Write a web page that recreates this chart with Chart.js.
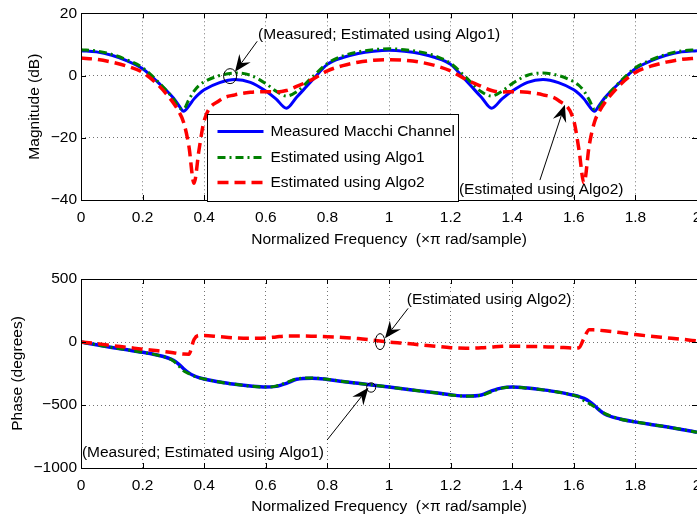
<!DOCTYPE html>
<html>
<head>
<meta charset="utf-8">
<script src="https://cdn.jsdelivr.net/npm/chart.js@4"></script>
<style>
html, body { margin: 0; padding: 0; overflow: hidden; background: #fff; }
#wrap { position: relative; width: 697px; height: 523px; overflow: hidden; }
canvas { position: absolute; left: 0; }
#mag { top: 0; }
#phase { top: 260px; }
</style>
</head>
<body>
<div id="wrap">
  <canvas id="mag" width="717" height="260"></canvas>
  <canvas id="phase" width="717" height="263"></canvas>
</div>
<script>
// normalized frequency (x pi rad/sample)
const freq = [
  0, 0.05, 0.1, 0.15, 0.2, 0.25, 0.3, 0.317, 0.333, 0.35, 0.367, 0.383, 0.4,
  0.45, 0.5, 0.55, 0.6, 0.633, 0.667, 0.7, 0.75, 0.8, 0.85, 0.9, 0.95, 1.0,
  1.05, 1.1, 1.15, 1.2, 1.25, 1.3, 1.333, 1.367, 1.4, 1.45, 1.5, 1.55, 1.6,
  1.617, 1.633, 1.65, 1.667, 1.683, 1.7, 1.75, 1.8, 1.85, 1.9, 1.95, 2.0
];

// magnitude, dB
const magMeasured = [
  8.0, 7.6, 6.5, 4.7, 2.2, -2.2, -7.2, -9.5, -11.5, -9.8, -7.5, -5.9, -4.6,
  -2.3, -1.3, -2.2, -5.0, -7.5, -10.5, -7.0, -1.6, 3.6, 5.8, 7.1, 7.8, 8.1,
  7.8, 7.1, 5.8, 3.6, -1.6, -7.0, -10.5, -7.5, -5.0, -2.2, -1.3, -2.3, -4.6,
  -5.9, -7.5, -9.8, -11.5, -9.5, -7.2, -2.2, 2.2, 4.7, 6.5, 7.6, 8.0
];
const magAlgo1 = [
  8.3, 7.9, 6.8, 5.0, 2.5, -2.0, -7.5, -10.2, -10.8, -7.8, -5.0, -3.2, -2.0,
  0.0, 0.8, 0.1, -2.6, -5.0, -6.6, -5.2, -0.6, 3.9, 6.3, 7.6, 8.3, 8.6,
  8.3, 7.6, 6.3, 3.9, -0.6, -5.2, -6.6, -5.0, -2.6, 0.1, 0.8, 0.0, -2.0,
  -3.2, -5.0, -7.8, -10.8, -10.2, -7.5, -2.0, 2.5, 5.0, 6.8, 7.9, 8.3
];
const magAlgo2 = [
  5.6, 5.2, 4.3, 3.0, 1.0, -3.0, -8.8, -11.5, -15.0, -22.5, -34.6, -24.0, -14.5,
  -8.0, -6.2, -5.4, -5.2, -5.3, -4.8, -3.5, -1.3, 1.5, 3.2, 4.3, 4.9, 5.1,
  4.9, 4.3, 3.2, 1.5, -1.3, -3.5, -4.8, -5.3, -5.2, -5.4, -6.2, -8.0, -14.5,
  -24.0, -34.6, -22.5, -15.0, -11.5, -8.8, -3.0, 1.0, 3.0, 4.3, 5.2, 5.6
];

// phase, degrees
const phaseMeasured = [
  0, -22, -43, -62, -82, -105, -145, -175, -212, -245, -268, -283, -293,
  -318, -336, -350, -358, -352, -328, -296, -287, -297, -313, -328, -343, -358,
  -373, -388, -403, -419, -429, -420, -388, -364, -358, -366, -380, -398, -423,
  -433, -448, -471, -504, -541, -571, -611, -634, -654, -673, -694, -716
];
const phaseAlgo1 = [
  0, -22, -43, -62, -82, -105, -150, -190, -228, -250, -270, -284, -293,
  -318, -336, -350, -358, -350, -322, -292, -285, -296, -313, -328, -343, -358,
  -373, -388, -403, -420, -430, -424, -394, -366, -358, -366, -380, -398, -423,
  -436, -466, -488, -514, -538, -566, -611, -634, -654, -673, -694, -716
];
const phaseAlgo2 = [
  0, -12, -28, -42, -57, -70, -85, -92, -96, -97, 20, 52, 52,
  42, 33, 30, 32, 40, 48, 48, 46, 42, 36, 27, 14, 0,
  -10, -22, -33, -45, -49, -46, -40, -34, -33, -35, -37, -42, -48,
  -45, 30, 98, 96, 93, 89, 75, 59, 46, 34, 22, 8
];

const seriesNames = ['Measured Macchi Channel', 'Estimated using Algo1', 'Estimated using Algo2'];
const xTitle = 'Normalized Frequency  (\u00d7\u03c0 rad/sample)';

const FONT = { family: '"Liberation Sans", Arial, Helvetica, sans-serif', size: 15.5 };
const FONT_CSS = '15.5px "Liberation Sans", Arial, Helvetica, sans-serif';

const styles = [
  { borderColor: '#0000ff', borderWidth: 3, borderDash: [], order: 2 },
  { borderColor: '#008000', borderWidth: 3, borderDash: [8, 4, 2, 4], order: 1 },
  { borderColor: '#ff0000', borderWidth: 3.5, borderDash: [11, 6], order: 0 }
];

const pts = ys => freq.map((f, i) => ({ x: f, y: ys[i] }));
const minus = v => String(v).replace('-', '\u2212');

function makeSets(arrays, blueWidth) {
  return arrays.map((ys, i) => Object.assign({
    label: seriesNames[i],
    data: pts(ys),
    pointRadius: 0,
    fill: false,
    cubicInterpolationMode: 'monotone',
    borderCapStyle: 'butt',
    borderJoinStyle: 'round'
  }, styles[i], i === 0 ? { borderWidth: blueWidth } : {}));
}

// box around the axes with small inward ticks on all four sides
const framePlugin = {
  id: 'frame',
  afterDatasetsDraw(chart) {
    const { ctx, chartArea: a, scales: { x, y } } = chart;
    ctx.save();
    ctx.strokeStyle = '#000';
    ctx.lineWidth = 1;
    ctx.setLineDash([]);
    ctx.beginPath();
    x.ticks.forEach(t => {
      const px = Math.round(x.getPixelForValue(t.value)) + 0.5;
      ctx.moveTo(px, a.bottom); ctx.lineTo(px, a.bottom - 5);
      ctx.moveTo(px, a.top); ctx.lineTo(px, a.top + 5);
    });
    y.ticks.forEach(t => {
      const py = Math.round(y.getPixelForValue(t.value)) + 0.5;
      ctx.moveTo(a.left, py); ctx.lineTo(a.left + 5, py);
      ctx.moveTo(a.right, py); ctx.lineTo(a.right - 5, py);
    });
    ctx.stroke();
    ctx.strokeRect(Math.round(a.left) + 0.5, Math.round(a.top) + 0.5,
                   Math.round(a.width), Math.round(a.height));
    ctx.restore();
  }
};

function drawArrow(ctx, x0, y0, x1, y1) {
  const ang = Math.atan2(y1 - y0, x1 - x0);
  const len = 17, half = 7, back = 11;
  ctx.beginPath();
  ctx.moveTo(x0, y0);
  ctx.lineTo(x1 - Math.cos(ang) * back, y1 - Math.sin(ang) * back);
  ctx.stroke();
  ctx.save();
  ctx.translate(x1, y1);
  ctx.rotate(ang);
  ctx.beginPath();
  ctx.moveTo(0, 0);
  ctx.lineTo(-len, -half);
  ctx.lineTo(-back, 0);
  ctx.lineTo(-len, half);
  ctx.closePath();
  ctx.fill();
  ctx.restore();
}

// text callouts with arrows, positioned in data units
const notesPlugin = {
  id: 'notes',
  afterDraw(chart, args, opts) {
    const { ctx, scales: { x, y } } = chart;
    const P = (fx, fy) => [x.getPixelForValue(fx), y.getPixelForValue(fy)];
    ctx.save();
    ctx.fillStyle = '#000';
    ctx.strokeStyle = '#000';
    ctx.lineWidth = 1;
    ctx.setLineDash([]);
    (opts.items || []).forEach(n => {
      if (n.ring) {
        const [cx, cy] = P(n.ring[0], n.ring[1]);
        ctx.beginPath();
        ctx.ellipse(cx, cy, n.ring[2], n.ring[3], 0, 0, Math.PI * 2);
        ctx.stroke();
      }
      const [fx, fy] = P(n.from[0], n.from[1]);
      const [tx, ty] = P(n.to[0], n.to[1]);
      drawArrow(ctx, fx, fy, tx, ty);
      const [lx, ly] = P(n.at[0], n.at[1]);
      ctx.font = FONT_CSS;
      ctx.textAlign = 'left';
      ctx.textBaseline = 'middle';
      ctx.fillText(n.text, lx, ly);
    });
    ctx.restore();
  }
};

// boxed legend inside the magnitude axes
const legendBoxPlugin = {
  id: 'legendBox',
  afterDatasetsDraw(chart, args, opts) {
    if (!opts.show) return;
    const { ctx, chartArea: a } = chart;
    const bx = Math.round(a.left + 126) + 0.5, by = Math.round(a.top + 101) + 0.5;
    const bw = 251, bh = 87;
    ctx.save();
    ctx.fillStyle = '#fff';
    ctx.fillRect(bx, by, bw, bh);
    ctx.strokeStyle = '#000';
    ctx.lineWidth = 1;
    ctx.strokeRect(bx, by, bw, bh);
    const rows = [17, 43, 68];
    chart.data.datasets.forEach((ds, i) => {
      const yy = by + rows[i];
      ctx.strokeStyle = ds.borderColor;
      ctx.lineWidth = ds.borderWidth;
      ctx.setLineDash(ds.borderDash);
      ctx.beginPath();
      ctx.moveTo(bx + 10, yy);
      ctx.lineTo(bx + 56, yy);
      ctx.stroke();
      ctx.setLineDash([]);
      ctx.fillStyle = '#000';
      ctx.font = FONT_CSS;
      ctx.textAlign = 'left';
      ctx.textBaseline = 'middle';
      ctx.fillText(seriesNames[i], bx + 63, yy);
    });
    ctx.restore();
  }
};

function axes(yMin, yMax, yStep, yTitle, yTitlePad, xAxisHeight, xTitlePad) {
  return {
    x: {
      type: 'linear', min: 0, max: 2,
      ticks: {
        stepSize: 0.2, autoSkip: false, maxRotation: 0, padding: 8.5,
        color: '#000', font: FONT,
        callback: v => String(+v.toFixed(1))
      },
      grid: { color: 'rgba(0,0,0,0.55)', lineWidth: 1, drawTicks: false },
      border: { display: false, dash: [1, 3] },
      title: { display: true, text: xTitle, color: '#000', font: FONT, padding: { top: 0, bottom: xTitlePad } },
      afterFit: s => { s.height = xAxisHeight; }
    },
    y: {
      min: yMin, max: yMax,
      ticks: {
        stepSize: yStep, padding: 4, color: '#000', font: FONT,
        callback: v => minus(v)
      },
      grid: { color: 'rgba(0,0,0,0.55)', lineWidth: 1, drawTicks: false },
      border: { display: false, dash: [1, 3] },
      title: { display: true, text: yTitle, color: '#000', font: FONT, padding: { top: yTitlePad, bottom: 0 } },
      afterFit: s => { s.width = 81; }
    }
  };
}

new Chart(document.getElementById('mag'), {
  type: 'line',
  data: { datasets: makeSets([magMeasured, magAlgo1, magAlgo2], 3) },
  options: {
    responsive: false, animation: false, events: [],
    layout: { padding: { top: 10.5, right: 20, bottom: 0, left: 0 } },
    scales: axes(-40, 20, 20, 'Magnitude (dB)', 25.7, 60, 10.7),
    plugins: {
      legend: { display: false },
      tooltip: { enabled: false },
      legendBox: { show: true },
      notes: {
        items: [
          { text: '(Measured; Estimated using Algo1)', at: [0.575, 13], from: [0.572, 11.0], to: [0.5, 1.2], ring: [0.484, -0.2, 6.5, 7.5] },
          { text: '(Estimated using Algo2)', at: [1.227, -36.8], from: [1.49, -33.6], to: [1.571, -9.4] }
        ]
      }
    }
  },
  plugins: [framePlugin, legendBoxPlugin, notesPlugin]
});

new Chart(document.getElementById('phase'), {
  type: 'line',
  data: { datasets: makeSets([phaseMeasured, phaseAlgo1, phaseAlgo2], 3.5) },
  options: {
    responsive: false, animation: false, events: [],
    layout: { padding: { top: 19, right: 20, bottom: 0, left: 0 } },
    scales: axes(-1000, 500, 500, 'Phase (degrees)', 8.7, 55, 6.7),
    plugins: {
      legend: { display: false },
      tooltip: { enabled: false },
      legendBox: { show: false },
      notes: {
        items: [
          { text: '(Estimated using Algo2)', at: [1.058, 338], from: [1.062, 267], to: [0.987, 29], ring: [0.971, 3, 4.7, 8] },
          { text: '(Measured; Estimated using Algo1)', at: [0.003, -878], from: [0.799, -778], to: [0.933, -364], ring: [0.942, -361, 4.5, 4.7] }
        ]
      }
    }
  },
  plugins: [framePlugin, legendBoxPlugin, notesPlugin]
});
</script>
</body>
</html>
